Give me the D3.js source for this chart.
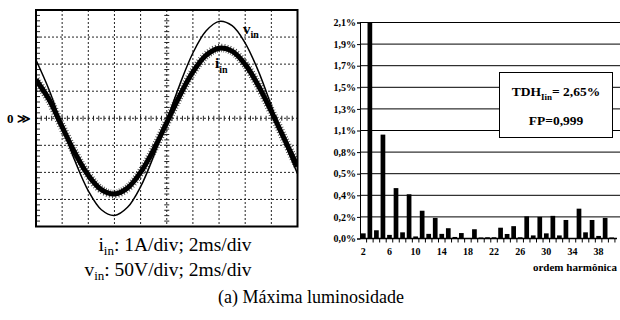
<!DOCTYPE html>
<html>
<head>
<meta charset="utf-8">
<script src="https://cdn.jsdelivr.net/npm/d3@7"></script>
<style>
  body { margin: 0; background: #fff; }
  svg, svg text { font-family: "Liberation Serif", "Times New Roman", "DejaVu Serif", serif; }
</style>
</head>
<body>
<div id="chart"></div>
<script>
// oscilloscope samples (divisions), read every half division
const scopeTime = [0, 0.5, 1, 1.5, 2, 2.5, 3, 3.5, 4, 4.5, 5, 5.5, 6, 6.5, 7, 7.5, 8, 8.5, 9, 9.5, 10];
const vIn = [2.15, 1.05, -0.3, -1.6, -2.68, -3.38, -3.59, -3.29, -2.53, -1.4, -0.08, 1.25, 2.41, 3.22, 3.58, 3.42, 2.78, 1.75, 0.46, -0.89, -2.05];
const iIn = [1.42, 0.69, -0.32, -1.3, -2.11, -2.64, -2.8, -2.58, -2.0, -1.16, -0.16, 0.84, 1.71, 2.32, 2.59, 2.48, 1.99, 1.21, 0.25, -0.77, -1.78];

// harmonic spectrum (% of fundamental)
const harmonics = [2, 3, 4, 5, 6, 7, 8, 9, 10, 11, 12, 13, 14, 15, 16, 17, 18, 19, 20, 21,
  22, 23, 24, 25, 26, 27, 28, 29, 30, 31, 32, 33, 34, 35, 36, 37, 38, 39, 40];
const thd = [0.05, 2.1, 0.08, 1.01, 0.035, 0.49, 0.06, 0.43, 0.02, 0.27, 0.045, 0.2, 0.045, 0.1, 0.015, 0.053, 0.005, 0.09, 0.01, 0.012,
  0.012, 0.105, 0.044, 0.12, 0.012, 0.215, 0.03, 0.21, 0.05, 0.22, 0.03, 0.18, 0.003, 0.29, 0.06, 0.18, 0.025, 0.2, 0.01];
const yTickLabels = ["0,0%", "0,2%", "0,4%", "0,5%", "0,8%", "1,1%", "1,3%", "1,5%", "1,7%", "1,9%", "2,1%"];
const xTickLabels = [2, 6, 10, 14, 18, 22, 26, 30, 34, 38];

const serif = "'Liberation Serif', 'Times New Roman', 'DejaVu Serif', serif";

const svg = d3.select("#chart")
  .append("svg")
  .attr("width", 620)
  .attr("height", 320)
  .attr("font-family", serif);

// ---------- oscilloscope ----------
const sx = d3.scaleLinear().domain([0, 10]).range([36, 297.5]);
const sy = d3.scaleLinear().domain([-4, 4]).range([226.5, 10]);
const scope = svg.append("g");

// dotted grid
scope.selectAll(".vg")
  .data(d3.range(1, 10))
  .enter().append("line")
  .attr("x1", d => sx(d)).attr("x2", d => sx(d))
  .attr("y1", sy(4)).attr("y2", sy(-4))
  .attr("stroke", "#222").attr("stroke-width", 1).attr("stroke-dasharray", "2,2");
scope.selectAll(".hg")
  .data([-3, -2, -1, 0, 1, 2, 3])
  .enter().append("line")
  .attr("x1", sx(0)).attr("x2", sx(10))
  .attr("y1", d => sy(d)).attr("y2", d => sy(d))
  .attr("stroke", "#222").attr("stroke-width", 1).attr("stroke-dasharray", "2,2");

// minor ticks on centre axes and left edge
const minorX = d3.range(0, 10.01, 0.2);
const minorY = d3.range(-4, 4.01, 0.2);
scope.selectAll(".mx")
  .data(minorX)
  .enter().append("line")
  .attr("x1", d => sx(d)).attr("x2", d => sx(d))
  .attr("y1", sy(0) - 2.5).attr("y2", sy(0) + 2.5)
  .attr("stroke", "#222").attr("stroke-width", 1);
scope.selectAll(".my")
  .data(minorY)
  .enter().append("line")
  .attr("x1", sx(5) - 2.5).attr("x2", sx(5) + 2.5)
  .attr("y1", d => sy(d)).attr("y2", d => sy(d))
  .attr("stroke", "#222").attr("stroke-width", 1);
scope.selectAll(".ml")
  .data(minorY)
  .enter().append("line")
  .attr("x1", sx(0)).attr("x2", sx(0) + 4)
  .attr("y1", d => sy(d)).attr("y2", d => sy(d))
  .attr("stroke", "#222").attr("stroke-width", 1);

const line = d3.line().curve(d3.curveCatmullRom);
const vPts = scopeTime.map((t, i) => [sx(t), sy(vIn[i])]);
const iPts = scopeTime.map((t, i) => [sx(t), sy(iIn[i])]);

scope.append("clipPath").attr("id", "scopeClip")
  .append("rect")
  .attr("x", sx(0)).attr("y", sy(4))
  .attr("width", sx(10) - sx(0)).attr("height", sy(-4) - sy(4));

const traces = scope.append("g").attr("clip-path", "url(#scopeClip)");
// current: thick noisy band
traces.append("path")
  .attr("d", line(iPts))
  .attr("fill", "none").attr("stroke", "#000").attr("stroke-width", 5);
traces.append("path")
  .attr("d", line(iPts))
  .attr("fill", "none").attr("stroke", "#000").attr("stroke-width", 8.5)
  .attr("stroke-dasharray", "0.8,1.9").attr("opacity", 0.75);
// voltage
traces.append("path")
  .attr("d", line(vPts))
  .attr("fill", "none").attr("stroke", "#000").attr("stroke-width", 1.5);

// frame
scope.append("rect")
  .attr("x", sx(0)).attr("y", sy(4))
  .attr("width", sx(10) - sx(0)).attr("height", sy(-4) - sy(4))
  .attr("fill", "none").attr("stroke", "#000").attr("stroke-width", 2);

// trace labels
const vLab = scope.append("text").attr("x", 243).attr("y", 34)
  .attr("font-size", 15).attr("font-weight", "bold").text("v");
vLab.append("tspan").attr("dy", 4).attr("font-size", 10).text("in");
const iLab = scope.append("text").attr("x", 215).attr("y", 68)
  .attr("font-size", 15).attr("font-weight", "bold").text("i");
iLab.append("tspan").attr("dy", 5).attr("font-size", 10).text("in");

scope.append("text")
  .attr("x", 7).attr("y", sy(0) + 4.5)
  .attr("font-size", 13).attr("font-weight", "bold")
  .text("0 \u226B");

// scale notes and caption
const note1 = svg.append("text").attr("x", 175).attr("y", 251)
  .attr("text-anchor", "middle").attr("font-size", 19.5).text("i");
note1.append("tspan").attr("dy", 4).attr("font-size", 13).text("in");
note1.append("tspan").attr("dy", -4).text(": 1A/div; 2ms/div");
const note2 = svg.append("text").attr("x", 168).attr("y", 276)
  .attr("text-anchor", "middle").attr("font-size", 19.5).text("v");
note2.append("tspan").attr("dy", 4).attr("font-size", 13).text("in");
note2.append("tspan").attr("dy", -4).text(": 50V/div; 2ms/div");
svg.append("text").attr("x", 311).attr("y", 303)
  .attr("text-anchor", "middle").attr("font-size", 18)
  .text("(a) Máxima luminosidade");

// ---------- harmonic spectrum ----------
const x = d3.scaleBand().domain(harmonics).range([360, 615]).paddingInner(0.28).paddingOuter(0.15);
const y = d3.scaleLinear().domain([0, 2.1]).range([238.5, 22.5]);
const yTicks = yTickLabels.map((d, i) => i * 0.21);
const bars = svg.append("g");

bars.selectAll(".grid")
  .data(yTicks.slice(1))
  .enter().append("line")
  .attr("x1", 360).attr("x2", 620)
  .attr("y1", d => y(d)).attr("y2", d => y(d))
  .attr("stroke", "#000").attr("stroke-width", 1);

// y axis with custom labels
bars.append("g")
  .attr("transform", "translate(360,0)")
  .call(d3.axisLeft(y).tickValues(yTicks).tickSize(3).tickPadding(1)
    .tickFormat((d, i) => yTickLabels[i]))
  .call(g => g.attr("font-family", serif))
  .call(g => g.selectAll("text").attr("font-size", 10).attr("font-weight", "bold").attr("fill", "#000"))
  .call(g => g.selectAll("line,path").attr("stroke", "#000"));

bars.selectAll(".bar")
  .data(thd)
  .enter().append("rect")
  .attr("x", (d, i) => x(harmonics[i]))
  .attr("y", d => y(d))
  .attr("width", x.bandwidth())
  .attr("height", d => y(0) - y(d))
  .attr("fill", "#000");

// x axis: tick between every band, labels every 4th harmonic
bars.append("line")
  .attr("x1", 360).attr("x2", 617)
  .attr("y1", y(0)).attr("y2", y(0))
  .attr("stroke", "#000").attr("stroke-width", 1.5);
bars.selectAll(".xt")
  .data(harmonics)
  .enter().append("line")
  .attr("x1", d => x(d) + x.step() - (x.step() - x.bandwidth()) / 2)
  .attr("x2", d => x(d) + x.step() - (x.step() - x.bandwidth()) / 2)
  .attr("y1", y(0)).attr("y2", y(0) + 4)
  .attr("stroke", "#000").attr("stroke-width", 1);
bars.selectAll(".xl")
  .data(xTickLabels)
  .enter().append("text")
  .attr("x", d => x(d) + x.bandwidth() / 2)
  .attr("y", 255)
  .attr("text-anchor", "middle").attr("font-size", 10).attr("font-weight", "bold")
  .text(d => d);
bars.append("text")
  .attr("x", 617).attr("y", 271)
  .attr("text-anchor", "end").attr("font-size", 11).attr("font-weight", "bold")
  .text("ordem harmônica");

// THD / PF box
bars.append("rect")
  .attr("x", 499.5).attr("y", 72.5).attr("width", 113).attr("height", 65)
  .attr("fill", "#fff").attr("stroke", "#000").attr("stroke-width", 1);
const tdh = bars.append("text").attr("x", 556).attr("y", 96)
  .attr("text-anchor", "middle").attr("font-size", 13.5).attr("font-weight", "bold").text("TDH");
tdh.append("tspan").attr("dy", 4).attr("font-size", 9).text("Iin");
tdh.append("tspan").attr("dy", -4).text("= 2,65%");
bars.append("text").attr("x", 556).attr("y", 125)
  .attr("text-anchor", "middle").attr("font-size", 13.5).attr("font-weight", "bold")
  .text("FP=0,999");
</script>
</body>
</html>
